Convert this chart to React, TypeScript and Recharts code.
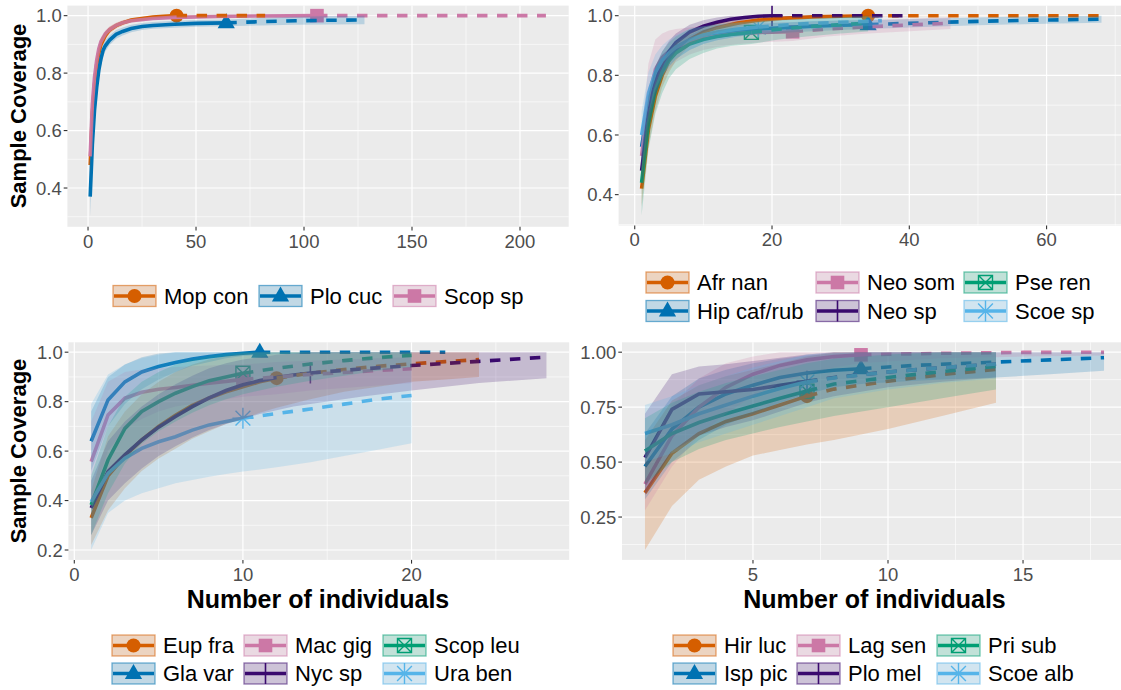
import React from 'react';
import { ComposedChart, Line, Area, Scatter, XAxis, YAxis, CartesianGrid } from 'recharts';

// [individuals, sample coverage, lower 95% bound, upper 95% bound]
type Row = [number, number, number, number];

// ---------- Panel 1 ----------
const mopCon: Row[] = [
  [1, 0.48, 0.44, 0.52], [2, 0.66, 0.62, 0.7], [3, 0.76, 0.73, 0.79], [4, 0.83, 0.8, 0.855],
  [5, 0.87, 0.85, 0.89], [6, 0.9, 0.88, 0.92], [8, 0.93, 0.915, 0.945], [10, 0.95, 0.937, 0.962],
  [13, 0.965, 0.955, 0.975], [16, 0.975, 0.966, 0.984], [20, 0.985, 0.977, 0.992], [25, 0.99, 0.983, 0.996],
  [30, 0.995, 0.989, 0.999], [35, 0.998, 0.993, 1], [41, 1, 0.996, 1], [50, 1, 0.997, 1],
  [60, 1, 0.998, 1], [70, 1, 0.999, 1], [82, 1, 0.999, 1],
];
const ploCuc: Row[] = [
  [1, 0.37, 0.3, 0.44], [2, 0.55, 0.49, 0.61], [3, 0.67, 0.62, 0.72], [4, 0.75, 0.71, 0.79],
  [5, 0.81, 0.78, 0.84], [6, 0.85, 0.825, 0.875], [7, 0.88, 0.858, 0.9], [8, 0.895, 0.875, 0.915],
  [10, 0.915, 0.898, 0.932], [13, 0.935, 0.92, 0.95], [16, 0.945, 0.931, 0.959], [20, 0.955, 0.942, 0.968],
  [25, 0.962, 0.95, 0.974], [30, 0.966, 0.954, 0.978], [40, 0.97, 0.958, 0.982], [50, 0.973, 0.961, 0.985],
  [64, 0.975, 0.963, 0.987], [80, 0.979, 0.966, 0.992], [96, 0.982, 0.968, 0.996], [112, 0.984, 0.969, 0.999],
  [128, 0.985, 0.97, 1],
];
const scopSp: Row[] = [
  [1, 0.51, 0.48, 0.54], [2, 0.69, 0.66, 0.72], [3, 0.785, 0.76, 0.81], [4, 0.845, 0.825, 0.865],
  [5, 0.885, 0.868, 0.9], [6, 0.91, 0.895, 0.925], [8, 0.937, 0.925, 0.949], [10, 0.952, 0.942, 0.962],
  [13, 0.966, 0.958, 0.974], [16, 0.975, 0.968, 0.982], [20, 0.982, 0.976, 0.988], [30, 0.99, 0.985, 0.995],
  [40, 0.994, 0.99, 0.998], [60, 0.997, 0.994, 1], [80, 0.999, 0.996, 1], [106, 1, 0.997, 1],
  [130, 1, 0.998, 1], [160, 1, 0.999, 1], [212, 1, 0.999, 1],
];
const panel1Names = ['Mop con', 'Plo cuc', 'Scop sp'];
const panel1Sizes = [41, 64, 106];
const panel1Curves = [mopCon, ploCuc, scopSp];

// ---------- Panel 2 ----------
const afrNan: Row[] = [
  [1, 0.42, 0.36, 0.48], [2, 0.62, 0.56, 0.68], [3, 0.73, 0.68, 0.78], [4, 0.8, 0.76, 0.84],
  [5, 0.85, 0.81, 0.88], [6, 0.88, 0.85, 0.91], [8, 0.92, 0.9, 0.94], [10, 0.945, 0.925, 0.96],
  [12, 0.96, 0.945, 0.975], [15, 0.975, 0.962, 0.985], [18, 0.985, 0.975, 0.993], [22, 0.992, 0.985, 0.998],
  [26, 0.996, 0.99, 1], [30, 0.998, 0.994, 1], [34, 1, 0.997, 1], [40, 1, 0.998, 1],
  [50, 1, 0.999, 1], [60, 1, 0.999, 1], [68, 1, 1, 1],
];
const hipCafRub: Row[] = [
  [1, 0.56, 0.5, 0.62], [2, 0.7, 0.64, 0.76], [3, 0.78, 0.73, 0.83], [4, 0.83, 0.79, 0.87],
  [5, 0.86, 0.83, 0.89], [6, 0.885, 0.855, 0.915], [8, 0.91, 0.885, 0.935], [10, 0.93, 0.905, 0.955],
  [12, 0.94, 0.918, 0.962], [15, 0.95, 0.93, 0.97], [18, 0.955, 0.937, 0.973], [22, 0.96, 0.943, 0.977],
  [26, 0.965, 0.948, 0.982], [30, 0.968, 0.952, 0.984], [34, 0.97, 0.955, 0.985], [42, 0.976, 0.962, 0.99],
  [50, 0.981, 0.968, 0.994], [58, 0.985, 0.972, 0.998], [68, 0.988, 0.976, 1],
];
const neoSom: Row[] = [
  [1, 0.53, 0.45, 0.61], [2, 0.72, 0.64, 0.84], [3, 0.82, 0.74, 0.92], [4, 0.86, 0.79, 0.94],
  [5, 0.88, 0.82, 0.95], [6, 0.895, 0.845, 0.955], [8, 0.915, 0.87, 0.96], [10, 0.925, 0.885, 0.965],
  [12, 0.932, 0.895, 0.97], [15, 0.94, 0.905, 0.975], [18, 0.944, 0.91, 0.978], [23, 0.946, 0.915, 0.978],
  [28, 0.955, 0.93, 0.982], [34, 0.963, 0.94, 0.986], [40, 0.969, 0.948, 0.99], [46, 0.975, 0.955, 0.995],
];
const neoSp: Row[] = [
  [1, 0.48, 0.42, 0.54], [2, 0.67, 0.61, 0.73], [3, 0.78, 0.73, 0.83], [4, 0.84, 0.8, 0.88],
  [5, 0.88, 0.845, 0.915], [6, 0.91, 0.88, 0.94], [8, 0.945, 0.92, 0.97], [10, 0.965, 0.945, 0.985],
  [12, 0.978, 0.962, 0.994], [14, 0.988, 0.975, 1], [16, 0.994, 0.985, 1], [18, 0.998, 0.992, 1],
  [20, 1, 0.996, 1], [25, 1, 0.998, 1], [30, 1, 0.999, 1], [40, 1, 1, 1],
];
const pseRen: Row[] = [
  [1, 0.44, 0.33, 0.54], [2, 0.64, 0.55, 0.73], [3, 0.75, 0.67, 0.83], [4, 0.81, 0.74, 0.88],
  [5, 0.85, 0.79, 0.91], [6, 0.875, 0.82, 0.93], [8, 0.905, 0.855, 0.955], [10, 0.92, 0.875, 0.965],
  [12, 0.93, 0.89, 0.97], [14, 0.937, 0.898, 0.975], [17, 0.944, 0.905, 0.98], [21, 0.955, 0.92, 0.985],
  [25, 0.963, 0.93, 0.99], [30, 0.97, 0.94, 0.995], [34, 0.975, 0.947, 1],
];
const scoeSp: Row[] = [
  [1, 0.6, 0.52, 0.68], [2, 0.74, 0.67, 0.81], [3, 0.81, 0.75, 0.87], [4, 0.85, 0.8, 0.9],
  [5, 0.875, 0.83, 0.92], [6, 0.895, 0.855, 0.935], [8, 0.92, 0.885, 0.955], [10, 0.935, 0.905, 0.965],
  [12, 0.945, 0.918, 0.972], [15, 0.955, 0.93, 0.978], [18, 0.962, 0.94, 0.984], [24, 0.972, 0.952, 0.99],
  [30, 0.978, 0.96, 0.995], [36, 0.983, 0.967, 0.999],
];
const panel2Names = ['Afr nan', 'Hip caf/rub', 'Neo som', 'Neo sp', 'Pse ren', 'Scoe sp'];
const panel2Sizes = [34, 34, 23, 20, 17, 18];
const panel2Curves = [afrNan, hipCafRub, neoSom, neoSp, pseRen, scoeSp];

// ---------- Panel 3 ----------
const eupFra: Row[] = [
  [1, 0.33, 0.22, 0.44], [2, 0.5, 0.36, 0.66], [3, 0.58, 0.45, 0.76], [4, 0.645, 0.52, 0.83],
  [5, 0.7, 0.57, 0.88], [6, 0.745, 0.61, 0.92], [7, 0.785, 0.65, 0.95], [8, 0.815, 0.68, 0.97],
  [9, 0.84, 0.71, 0.985], [10, 0.86, 0.73, 0.995], [11, 0.88, 0.755, 1], [12, 0.895, 0.775, 1],
  [14, 0.915, 0.81, 1], [16, 0.93, 0.84, 1], [18, 0.943, 0.86, 1], [20, 0.953, 0.88, 1],
  [22, 0.962, 0.89, 1], [24, 0.97, 0.9, 1],
];
const glaVar: Row[] = [
  [1, 0.64, 0.52, 0.76], [2, 0.807, 0.7, 0.9], [3, 0.88, 0.79, 0.95], [4, 0.92, 0.85, 0.98],
  [5, 0.942, 0.89, 0.995], [6, 0.958, 0.92, 1], [7, 0.972, 0.945, 1], [8, 0.982, 0.96, 1],
  [9, 0.99, 0.975, 1], [10, 0.996, 0.985, 1], [11, 1, 0.99, 1], [14, 1, 0.995, 1],
  [18, 1, 0.998, 1], [22, 1, 1, 1],
];
const macGig: Row[] = [
  [1, 0.557, 0.4, 0.72], [2, 0.746, 0.6, 0.88], [3, 0.814, 0.69, 0.92], [4, 0.838, 0.73, 0.93],
  [5, 0.85, 0.76, 0.935], [6, 0.857, 0.78, 0.94], [7, 0.866, 0.79, 0.943], [8, 0.875, 0.8, 0.946],
  [9, 0.882, 0.81, 0.948], [10, 0.89, 0.82, 0.95], [12, 0.9, 0.83, 0.96], [14, 0.91, 0.845, 0.965],
  [16, 0.918, 0.855, 0.97], [18, 0.926, 0.865, 0.975], [20, 0.933, 0.875, 0.98],
];
const nycSp: Row[] = [
  [1, 0.37, 0.26, 0.48], [2, 0.517, 0.4, 0.64], [3, 0.585, 0.47, 0.72], [4, 0.645, 0.53, 0.78],
  [5, 0.697, 0.58, 0.83], [6, 0.74, 0.62, 0.87], [7, 0.78, 0.655, 0.905], [8, 0.815, 0.685, 0.935],
  [9, 0.845, 0.71, 0.955], [10, 0.868, 0.73, 0.97], [11, 0.885, 0.75, 0.98], [12, 0.898, 0.765, 0.99],
  [13, 0.908, 0.78, 0.995], [14, 0.916, 0.79, 1], [17, 0.932, 0.82, 1], [20, 0.946, 0.845, 1],
  [24, 0.963, 0.875, 1], [28, 0.98, 0.895, 1],
];
const scopLeu: Row[] = [
  [1, 0.382, 0.26, 0.5], [2, 0.564, 0.43, 0.7], [3, 0.692, 0.55, 0.82], [4, 0.76, 0.63, 0.88],
  [5, 0.8, 0.68, 0.92], [6, 0.834, 0.72, 0.95], [7, 0.861, 0.755, 0.97], [8, 0.885, 0.785, 0.985],
  [9, 0.9, 0.81, 0.995], [10, 0.915, 0.83, 1], [12, 0.935, 0.86, 1], [14, 0.952, 0.885, 1],
  [16, 0.966, 0.905, 1], [18, 0.978, 0.925, 1], [20, 0.987, 0.94, 1],
];
const uraBen: Row[] = [
  [1, 0.395, 0.2, 0.79], [2, 0.51, 0.35, 0.91], [3, 0.571, 0.4, 0.95], [4, 0.611, 0.43, 0.975],
  [5, 0.638, 0.45, 0.99], [6, 0.658, 0.47, 1], [7, 0.685, 0.483, 1], [8, 0.706, 0.496, 1],
  [9, 0.72, 0.507, 1], [10, 0.733, 0.517, 1], [12, 0.752, 0.535, 1], [14, 0.77, 0.555, 1],
  [16, 0.79, 0.58, 1], [18, 0.81, 0.605, 1], [20, 0.825, 0.632, 1],
];
const panel3Names = ['Eup fra', 'Gla var', 'Mac gig', 'Nyc sp', 'Scop leu', 'Ura ben'];
const panel3Sizes = [12, 11, 10, 14, 10, 10];
const panel3Curves = [eupFra, glaVar, macGig, nycSp, scopLeu, uraBen];

// ---------- Panel 4 ----------
const hirLuc: Row[] = [
  [1, 0.36, 0.1, 0.6], [2, 0.54, 0.3, 0.78], [3, 0.63, 0.42, 0.85], [4, 0.685, 0.48, 0.89],
  [5, 0.72, 0.53, 0.92], [6, 0.76, 0.555, 0.95], [7, 0.8, 0.58, 0.98], [8, 0.832, 0.6, 1],
  [10, 0.868, 0.65, 1], [12, 0.898, 0.71, 1], [14, 0.922, 0.77, 1],
];
const ispPic: Row[] = [
  [1, 0.48, 0.33, 0.63], [2, 0.65, 0.5, 0.8], [3, 0.75, 0.6, 0.88], [4, 0.81, 0.67, 0.92],
  [5, 0.85, 0.72, 0.95], [6, 0.885, 0.77, 0.97], [7, 0.905, 0.81, 0.985], [8, 0.918, 0.84, 0.995],
  [9, 0.925, 0.855, 1], [11, 0.94, 0.87, 1], [14, 0.955, 0.885, 1], [16, 0.965, 0.9, 1],
  [18, 0.975, 0.915, 1],
];
const lagSen: Row[] = [
  [1, 0.4, 0.28, 0.52], [2, 0.62, 0.48, 0.76], [3, 0.75, 0.62, 0.88], [4, 0.84, 0.72, 0.95],
  [5, 0.9, 0.8, 0.98], [6, 0.94, 0.86, 1], [7, 0.965, 0.9, 1], [8, 0.98, 0.93, 1],
  [9, 0.988, 0.95, 1], [12, 0.995, 0.972, 1], [15, 0.999, 0.98, 1], [18, 1, 0.985, 1],
];
const ploMel: Row[] = [
  [1, 0.52, 0.35, 0.72], [2, 0.74, 0.55, 0.9], [3, 0.81, 0.62, 0.935], [4, 0.82, 0.66, 0.945],
  [5, 0.83, 0.69, 0.96], [6, 0.85, 0.73, 0.975], [7, 0.868, 0.77, 0.99], [8, 0.885, 0.8, 1],
  [10, 0.91, 0.84, 1], [12, 0.93, 0.865, 1], [14, 0.946, 0.885, 1],
];
const priSub: Row[] = [
  [1, 0.55, 0.4, 0.7], [2, 0.63, 0.5, 0.77], [3, 0.68, 0.56, 0.82], [4, 0.72, 0.6, 0.86],
  [5, 0.755, 0.63, 0.89], [6, 0.79, 0.66, 0.92], [7, 0.823, 0.685, 0.95], [8, 0.855, 0.71, 0.97],
  [10, 0.885, 0.75, 0.99], [12, 0.912, 0.79, 1], [14, 0.935, 0.83, 1],
];
const scoeAlb: Row[] = [
  [1, 0.63, 0.5, 0.76], [2, 0.67, 0.54, 0.8], [3, 0.72, 0.59, 0.85], [4, 0.76, 0.63, 0.89],
  [5, 0.8, 0.67, 0.93], [6, 0.835, 0.71, 0.96], [7, 0.865, 0.75, 0.99], [8, 0.883, 0.79, 1],
  [10, 0.91, 0.83, 1], [12, 0.93, 0.86, 1], [14, 0.946, 0.88, 1],
];
const panel4Names = ['Hir luc', 'Isp pic', 'Lag sen', 'Plo mel', 'Pri sub', 'Scoe alb'];
const panel4Sizes = [7, 9, 9, 7, 7, 7];
const panel4Curves = [hirLuc, ispPic, lagSen, ploMel, priSub, scoeAlb];

// ---------- Axis ticks ----------
const panel1XTicks = [0, 50, 100, 150, 200];
const panel1XMinor = [25, 75, 125, 175];
const panel2XTicks = [0, 20, 40, 60];
const panel2XMinor = [10, 30, 50, 70];
const panel3XTicks = [0, 10, 20];
const panel3XMinor = [5, 15, 25];
const panel4XTicks = [5, 10, 15];
const panel4XMinor = [2.5, 7.5, 12.5, 17.5];
const tenthTicks = [0.4, 0.6, 0.8, 1.0];
const tenthMinor = [0.3, 0.5, 0.7, 0.9];
const panel3YTicks = [0.2, 0.4, 0.6, 0.8, 1.0];
const panel3YMinor = [0.3, 0.5, 0.7, 0.9];
const quarterTicks = [0.25, 0.5, 0.75, 1.0];
const quarterMinor = [0.125, 0.375, 0.625, 0.875];

// ---------- Styling ----------
const FONT = '"Liberation Sans", Arial, Helvetica, sans-serif';
const COLORS = ['#D55E00', '#0072B2', '#CC79A7', '#3A0A6E', '#009E73', '#56B4E9'];
type Shape = 'circle' | 'triangle' | 'square' | 'plus' | 'boxX' | 'asterisk';
const SHAPES: Shape[] = ['circle', 'triangle', 'square', 'plus', 'boxX', 'asterisk'];

function Marker({ kind, cx, cy, color }: { kind: Shape; cx: number; cy: number; color: string }) {
  const a = 10.5;
  const d = 7.4;
  switch (kind) {
    case 'circle':
      return <circle cx={cx} cy={cy} r={7} fill={color} />;
    case 'triangle':
      return <polygon points={`${cx},${cy - 9.5} ${cx - 8.6},${cy + 5.5} ${cx + 8.6},${cy + 5.5}`} fill={color} />;
    case 'square':
      return <rect x={cx - 6.8} y={cy - 6.8} width={13.6} height={13.6} fill={color} />;
    case 'plus':
      return <path d={`M${cx - a} ${cy}H${cx + a}M${cx} ${cy - a}V${cy + a}`} stroke={color} strokeWidth={1.6} fill="none" />;
    case 'boxX':
      return (
        <path
          d={`M${cx - 7} ${cy - 7}h14v14h-14zM${cx - 7} ${cy - 7}l14 14M${cx + 7} ${cy - 7}l-14 14`}
          stroke={color}
          strokeWidth={1.4}
          fill="none"
        />
      );
    default:
      return (
        <path
          d={`M${cx - a} ${cy}H${cx + a}M${cx} ${cy - a}V${cy + a}M${cx - d} ${cy - d}L${cx + d} ${cy + d}M${cx + d} ${cy - d}L${cx - d} ${cy + d}`}
          stroke={color}
          strokeWidth={1.4}
          fill="none"
        />
      );
  }
}

type Rect = { x0: number; x1: number; y0: number; y1: number };
type PanelSpec = {
  names: string[];
  sizes: number[];
  curves: Row[][];
  box: { left: number; top: number; width: number; height: number };
  plot: Rect;
  xTicks: number[];
  xMinor: number[];
  yTicks: number[];
  yMinor: number[];
  yDigits: number;
};

const expand = (lo: number, hi: number): [number, number] => {
  const pad = (hi - lo) * 0.05;
  return [lo - pad, hi + pad];
};

function CoveragePanel({ p }: { p: PanelSpec }) {
  const rowsAll = p.curves.flat();
  const xDomain = expand(Math.min(...rowsAll.map((r) => r[0])), Math.max(...rowsAll.map((r) => r[0])));
  const yDomain = expand(Math.min(...rowsAll.map((r) => r[2])), Math.max(...rowsAll.map((r) => r[3])));

  const series = p.names.map((name, i) => {
    const rows = p.curves[i];
    const n = p.sizes[i];
    const atN = rows.find((r) => r[0] === n) as Row;
    return {
      name,
      color: COLORS[i],
      shape: SHAPES[i],
      solid: rows.filter((r) => r[0] <= n).map((r) => ({ x: r[0], y: r[1] })),
      dashed: rows.filter((r) => r[0] >= n).map((r) => ({ x: r[0], y: r[1] })),
      band: rows.map((r) => ({ x: r[0], band: [r[2], r[3]] })),
      observed: [{ x: n, y: atN[1] }],
    };
  });

  const { box, plot } = p;
  const margin = {
    top: plot.y0 - box.top,
    right: box.left + box.width - plot.x1,
    bottom: 0,
    left: 0,
  };
  const tickStyle = { fill: '#4D4D4D', fontSize: 18.5, fontFamily: FONT };

  return (
    <div style={{ position: 'absolute', left: box.left, top: box.top }}>
      <ComposedChart width={box.width} height={box.height} margin={margin}>
        <CartesianGrid
          fill="#EBEBEB"
          fillOpacity={1}
          stroke="#FFFFFF"
          strokeWidth={0.6}
          horizontalValues={p.yMinor}
          verticalValues={p.xMinor}
        />
        <CartesianGrid stroke="#FFFFFF" strokeWidth={1.2} horizontalValues={p.yTicks} verticalValues={p.xTicks} />
        <XAxis
          type="number"
          dataKey="x"
          domain={xDomain}
          allowDataOverflow
          ticks={p.xTicks}
          interval={0}
          height={box.top + box.height - plot.y1}
          axisLine={false}
          tickSize={3.7}
          tickMargin={4}
          tickLine={{ stroke: '#333333', strokeWidth: 1.1 }}
          tick={tickStyle}
        />
        <YAxis
          type="number"
          dataKey="y"
          domain={yDomain}
          allowDataOverflow
          ticks={p.yTicks}
          interval={0}
          width={plot.x0 - box.left}
          axisLine={false}
          tickSize={3.7}
          tickMargin={2}
          tickLine={{ stroke: '#333333', strokeWidth: 1.1 }}
          tick={tickStyle}
          tickFormatter={(v: number) => v.toFixed(p.yDigits)}
        />
        {series.map((s) => (
          <Scatter
            key={`pt-${s.name}`}
            data={s.observed}
            isAnimationActive={false}
            zIndex={350}
            shape={(props: any) => <Marker kind={s.shape} cx={props.cx} cy={props.cy} color={s.color} />}
          />
        ))}
        {series.map((s) => (
          <Line
            key={`rare-${s.name}`}
            data={s.solid}
            dataKey="y"
            type="linear"
            stroke={s.color}
            strokeWidth={3.6}
            dot={false}
            activeDot={false}
            isAnimationActive={false}
            zIndex={400}
          />
        ))}
        {series.map((s) => (
          <Line
            key={`extra-${s.name}`}
            data={s.dashed}
            dataKey="y"
            type="linear"
            stroke={s.color}
            strokeWidth={3.6}
            strokeDasharray="10.5 9.5"
            strokeLinecap="butt"
            dot={false}
            activeDot={false}
            isAnimationActive={false}
            zIndex={400}
          />
        ))}
        {series.map((s) => (
          <Area
            key={`ci-${s.name}`}
            data={s.band}
            dataKey="band"
            type="linear"
            stroke="none"
            fill={s.color}
            fillOpacity={0.21}
            dot={false}
            activeDot={false}
            isAnimationActive={false}
            zIndex={450}
          />
        ))}
      </ComposedChart>
    </div>
  );
}

const panels: PanelSpec[] = [
  {
    names: panel1Names, sizes: panel1Sizes, curves: panel1Curves,
    box: { left: 0, top: 0, width: 580, height: 262 },
    plot: { x0: 67.4, x1: 568.7, y0: 5.6, y1: 226.8 },
    xTicks: panel1XTicks, xMinor: panel1XMinor, yTicks: tenthTicks, yMinor: tenthMinor, yDigits: 1,
  },
  {
    names: panel2Names, sizes: panel2Sizes, curves: panel2Curves,
    box: { left: 560, top: 0, width: 580, height: 262 },
    plot: { x0: 618.6, x1: 1124.5, y0: 5.7, y1: 225.5 },
    xTicks: panel2XTicks, xMinor: panel2XMinor, yTicks: tenthTicks, yMinor: tenthMinor, yDigits: 1,
  },
  {
    names: panel3Names, sizes: panel3Sizes, curves: panel3Curves,
    box: { left: 0, top: 330, width: 580, height: 272 },
    plot: { x0: 68.4, x1: 569.2, y0: 342.3, y1: 559.9 },
    xTicks: panel3XTicks, xMinor: panel3XMinor, yTicks: panel3YTicks, yMinor: panel3YMinor, yDigits: 1,
  },
  {
    names: panel4Names, sizes: panel4Sizes, curves: panel4Curves,
    box: { left: 560, top: 330, width: 580, height: 272 },
    plot: { x0: 622, x1: 1127, y0: 342.3, y1: 559.9 },
    xTicks: panel4XTicks, xMinor: panel4XMinor, yTicks: quarterTicks, yMinor: quarterMinor, yDigits: 2,
  },
];

// Legend placement: left edges of key columns and top edges of key rows
const legends = [
  { names: panel1Names, cols: [113, 259, 393], rows: [285.5], perCol: 1 },
  { names: panel2Names, cols: [646, 816, 964], rows: [272, 300.5], perCol: 2 },
  { names: panel3Names, cols: [112, 244, 383], rows: [635, 663], perCol: 2 },
  { names: panel4Names, cols: [673, 797, 937], rows: [635, 663], perCol: 2 },
];

const KEY_W = 43;
const KEY_H = 21;

function LegendKey({ x, y, color, shape }: { x: number; y: number; color: string; shape: Shape }) {
  const cy = y + KEY_H / 2;
  return (
    <g>
      <rect x={x} y={y} width={KEY_W} height={KEY_H} fill="#F2F2F2" />
      <line x1={x + 1} x2={x + KEY_W - 1} y1={cy} y2={cy} stroke={color} strokeWidth={3.4} />
      <Marker kind={shape} cx={x + KEY_W / 2} cy={cy} color={color} />
      <rect
        x={x}
        y={y}
        width={KEY_W}
        height={KEY_H}
        fill={color}
        fillOpacity={0.2}
        stroke={color}
        strokeOpacity={0.55}
        strokeWidth={1.3}
      />
    </g>
  );
}

export default function App() {
  return (
    <div
      style={{
        position: 'absolute',
        left: 0,
        top: 0,
        width: 1121,
        height: 690,
        overflow: 'hidden',
        background: '#FFFFFF',
        fontFamily: FONT,
      }}
    >
      {panels.map((p, i) => (
        <CoveragePanel key={i} p={p} />
      ))}
      <svg
        width={1121}
        height={690}
        style={{ position: 'absolute', left: 0, top: 0, pointerEvents: 'none' }}
        fontFamily={FONT}
      >
        <text transform="translate(18.6,116) rotate(-90)" textAnchor="middle" dominantBaseline="central" fontSize={22} fontWeight="bold" fill="#000">
          Sample Coverage
        </text>
        <text transform="translate(18.6,451) rotate(-90)" textAnchor="middle" dominantBaseline="central" fontSize={22} fontWeight="bold" fill="#000">
          Sample Coverage
        </text>
        <text x={318} y={608} textAnchor="middle" fontSize={25} fontWeight="bold" fill="#000">
          Number of individuals
        </text>
        <text x={874.5} y={608} textAnchor="middle" fontSize={25} fontWeight="bold" fill="#000">
          Number of individuals
        </text>
        {legends.map((lg, li) =>
          lg.names.map((name, i) => {
            const col = Math.floor(i / lg.perCol);
            const row = i % lg.perCol;
            const x = lg.cols[col];
            const y = lg.rows[row];
            return (
              <g key={`${li}-${name}`}>
                <LegendKey x={x} y={y} color={COLORS[i]} shape={SHAPES[i]} />
                <text x={x + 51} y={y + KEY_H / 2} dominantBaseline="central" fontSize={22} fill="#000">
                  {name}
                </text>
              </g>
            );
          })
        )}
      </svg>
    </div>
  );
}
